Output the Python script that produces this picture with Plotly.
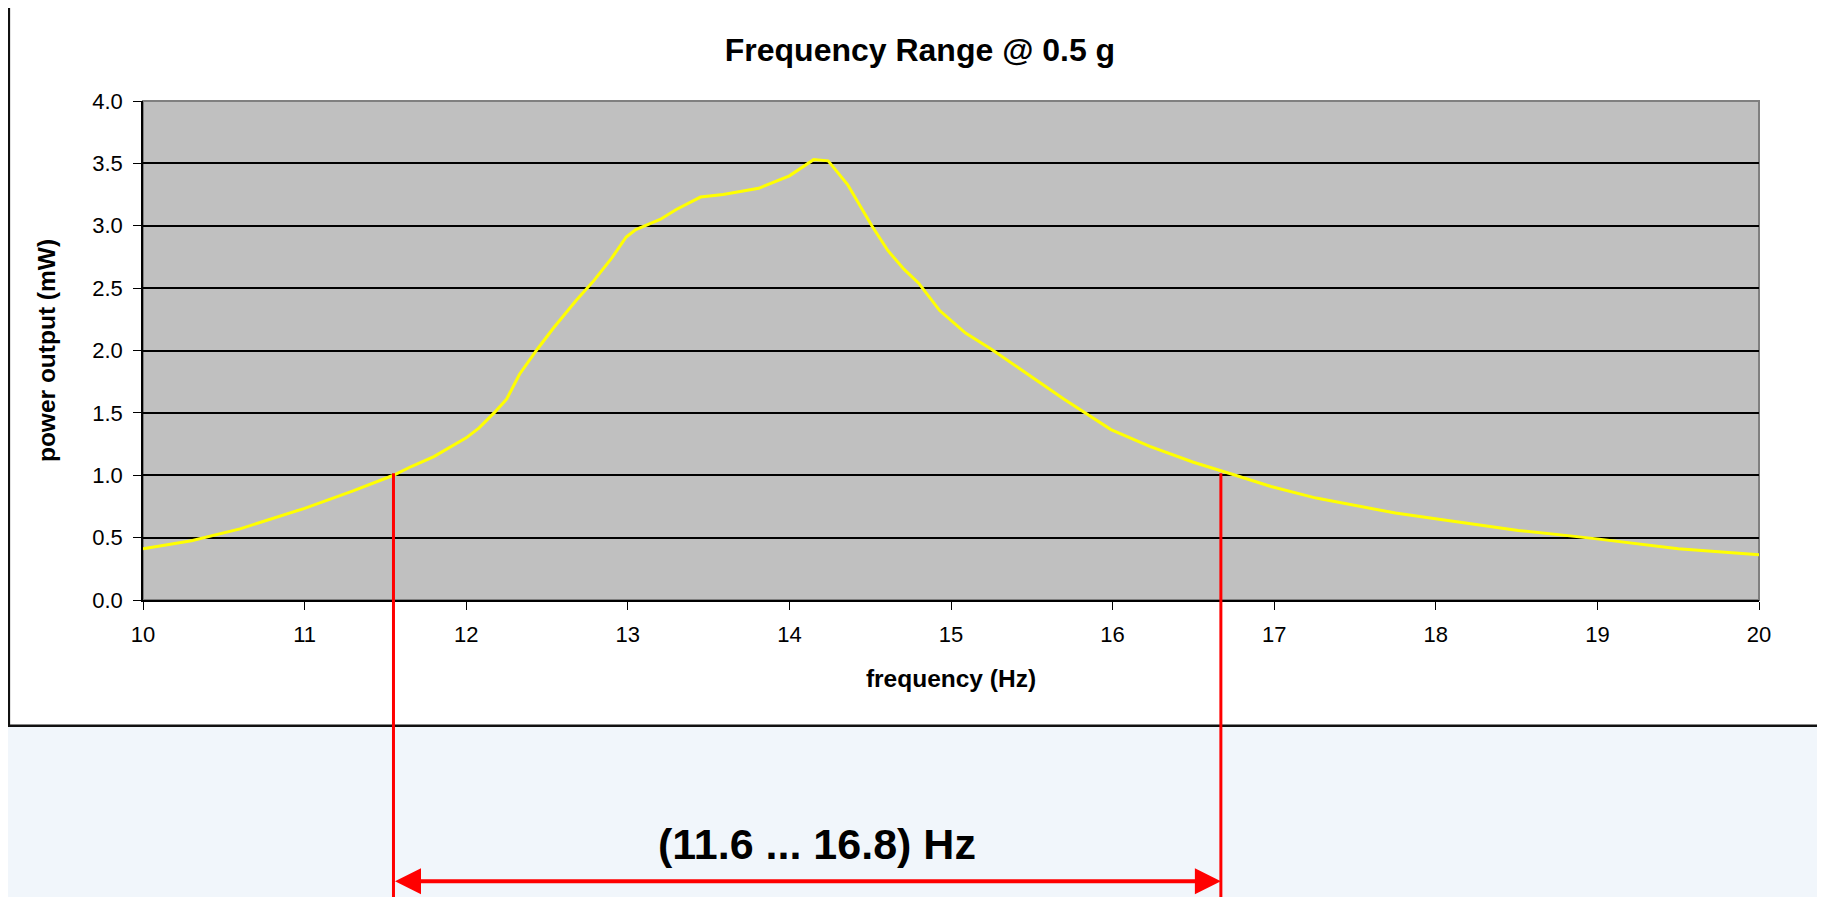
# _*_ coding: utf-8 _*_

"""
frequency range @ 0.5 g
"""

import plotly.graph_objects as go

# data ================================================================================================
freq = [10.0, 10.3, 10.6, 11.0, 11.3, 11.55, 11.66, 11.8, 12.0, 12.08, 12.18, 12.25, 12.33, 12.44,
        12.54, 12.68, 12.79, 12.9, 12.99, 13.05, 13.2, 13.3, 13.45, 13.59, 13.81, 14.0, 14.15, 14.24,
        14.36, 14.51, 14.61, 14.71, 14.8, 14.93, 15.09, 15.25, 15.7, 15.83, 15.99, 16.23, 16.5, 16.76,
        16.98, 17.26, 17.75, 18.02, 18.51, 18.83, 19.01, 19.5, 20.0]
power = [0.41, 0.475, 0.57, 0.735, 0.875, 1.0, 1.07, 1.15, 1.3, 1.38, 1.51, 1.61, 1.81, 2.01,
         2.18, 2.4, 2.56, 2.74, 2.91, 2.97, 3.05, 3.13, 3.23, 3.25, 3.3, 3.4, 3.53, 3.52,
         3.33, 3.0, 2.8, 2.65, 2.54, 2.32, 2.14, 2.01, 1.61, 1.5, 1.366, 1.232, 1.104, 1.0,
         0.91, 0.817, 0.697, 0.648, 0.557, 0.514, 0.488, 0.41, 0.362]

f_low, f_high = 11.55, 16.67
range_label = "(11.6 ... 16.8) Hz"
threshold = 1.0

FONT = "Liberation Sans, Arial, sans-serif"
X_RANGE = [10, 20]
Y_RANGE = [0, 4]

# figure ==============================================================================================
fig = go.Figure()
fig.add_trace(go.Scatter(x=freq, y=power, mode="lines", line=dict(color="#FFFF00", width=3),
                         showlegend=False, hoverinfo="x+y"))

# white chart box and grey plot area
fig.add_shape(type="rect", xref="paper", yref="paper", x0=-0.083, x1=1.12, y0=-0.252, y1=1.192,
              fillcolor="white", line=dict(color="#111111", width=2.5), layer="below")
fig.add_shape(type="rect", xref="paper", yref="paper", x0=0, x1=1, y0=0, y1=1,
              fillcolor="#C0C0C0", line=dict(color="#808080", width=2), layer="below")

# red markers at 1 mW
y_thr = (threshold - Y_RANGE[0]) / (Y_RANGE[1] - Y_RANGE[0])
for f in (f_low, f_high):
    fig.add_shape(type="line", xref="x", yref="paper", x0=f, x1=f, y0=y_thr + 0.004, y1=-0.7,
                  line=dict(color="#FF0000", width=3), layer="above")

# double arrow
fig.add_annotation(xref="x", yref="paper", x=f_high, y=-0.5637, axref="x", ayref="pixel",
                   ax=f_low, ay=0, text=" ", font=dict(size=1), showarrow=True,
                   arrowhead=2, startarrowhead=2, arrowside="end+start", arrowwidth=4,
                   arrowsize=1.3, startarrowsize=1.3, arrowcolor="#FF0000")
fig.add_annotation(xref="x", yref="paper", x=14.17, y=-0.542, text="<b>%s</b>" % range_label,
                   showarrow=False, font=dict(family=FONT, size=43, color="black"))

fig.update_layout(
    width=1825, height=897,
    margin=dict(l=135, r=74, t=93, b=305),
    paper_bgcolor="#F1F6FB",
    plot_bgcolor="#C0C0C0",
    font=dict(family=FONT, color="black"),
    title=dict(text="<b>Frequency Range @ 0.5 g</b>", x=0.4997, xref="container", xanchor="center",
               y=0.953, yref="container", yanchor="middle", font=dict(size=32, family=FONT)),
    xaxis=dict(range=X_RANGE, dtick=1, showgrid=False, zeroline=False, showline=True,
               linecolor="black", linewidth=1.5, ticks="outside", ticklen=8, tickcolor="black",
               tickfont=dict(size=22), ticklabelstandoff=6,
               title=dict(text="<b>frequency (Hz)</b>", font=dict(size=24.5), standoff=24)),
    yaxis=dict(range=Y_RANGE, dtick=0.5, tickformat=".1f", showgrid=True, gridcolor="black",
               gridwidth=1.5, zeroline=False, showline=True, linecolor="black", linewidth=1.5,
               ticks="outside", ticklen=8, tickcolor="black", tickfont=dict(size=22),
               ticklabelstandoff=6,
               title=dict(text="<b>power output (mW)</b>", font=dict(size=24.5), standoff=30)),
)

fig.write_html("out.html")
